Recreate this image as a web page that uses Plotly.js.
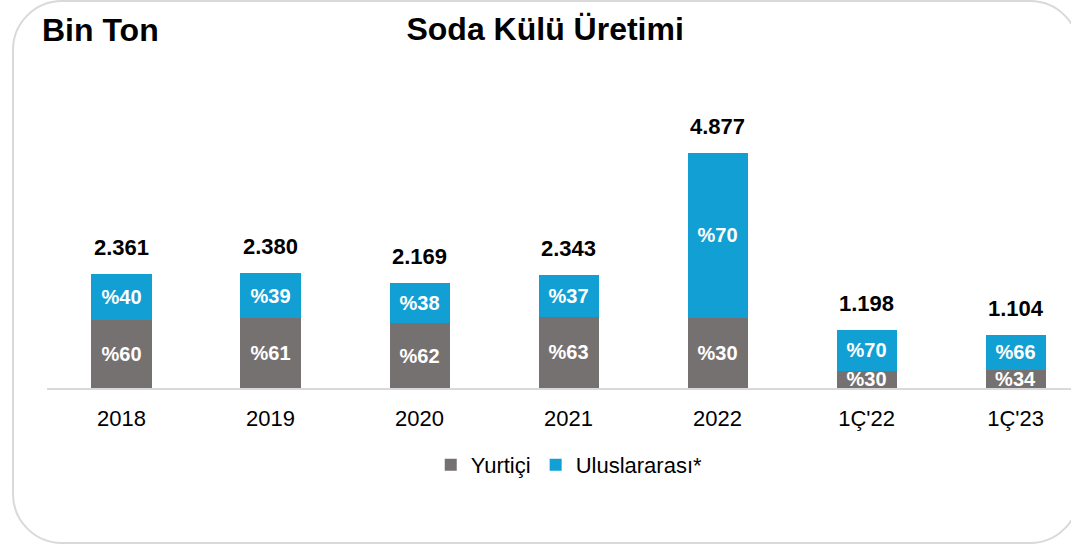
<!DOCTYPE html>
<html>
<head>
<meta charset="utf-8">
<script src="https://cdn.plot.ly/plotly-3.0.1.min.js"></script>
<style>
  html, body { margin: 0; padding: 0; background: #ffffff; }
  #wrap { position: relative; width: 1071px; height: 544px; overflow: hidden; }
  #frame { position: absolute; left: 12px; top: 0px; width: 1068px; height: 544px; box-sizing: border-box;
           border: 2px solid #d9d9d9; border-radius: 50px; }
  #chart { position: absolute; left: 0; top: 0; width: 1071px; height: 544px; }
</style>
</head>
<body>
<div id="wrap">
  <div id="frame"></div>
  <div id="chart"></div>
</div>
<script>
// Data (Bin Ton)
var categories = ["2018", "2019", "2020", "2021", "2022", "1Ç'22", "1Ç'23"];
var totals = [2361, 2380, 2169, 2343, 4877, 1198, 1104];
var totalLabels = ["2.361", "2.380", "2.169", "2.343", "4.877", "1.198", "1.104"];
var domestic = [1417, 1452, 1345, 1476, 1463, 359, 375];
var international = [944, 928, 824, 867, 3414, 839, 729];
var domesticPct = [60, 61, 62, 63, 30, 30, 34];
var internationalPct = [40, 39, 38, 37, 70, 70, 66];

var FONT = '"Liberation Sans", Arial, sans-serif';
var GRAY = '#767171';
var BLUE = '#129FD4';

var traces = [
  {
    type: 'bar', name: 'Yurtiçi', x: categories, y: domestic,
    marker: { color: GRAY },
    text: domesticPct.map(function (p) { return '%' + p; }),
    textposition: 'inside', insidetextanchor: 'middle', constraintext: 'none', textangle: 0,
    textfont: { family: FONT, size: 20, color: '#ffffff', weight: 700 },
    hoverinfo: 'skip'
  },
  {
    type: 'bar', name: 'Uluslararası*', x: categories, y: international,
    marker: { color: BLUE },
    text: internationalPct.map(function (p) { return '%' + p; }),
    textposition: 'inside', insidetextanchor: 'middle', constraintext: 'none', textangle: 0,
    textfont: { family: FONT, size: 20, color: '#ffffff', weight: 700 },
    hoverinfo: 'skip'
  }
];

// total labels above each bar (x given as category index so "2018" isn't read as a number)
var annotations = categories.map(function (c, i) {
  return {
    x: i, y: totals[i], xref: 'x', yref: 'y', text: totalLabels[i],
    showarrow: false, yanchor: 'bottom', yshift: 12,
    font: { family: FONT, size: 22, color: '#000000', weight: 700 }
  };
});
annotations.push({
  xref: 'paper', yref: 'paper', x: -0.007, y: 1.243, xanchor: 'left', yanchor: 'middle',
  text: 'Bin Ton', showarrow: false,
  font: { family: FONT, size: 32, color: '#000000', weight: 700 }
});

var layout = {
  width: 1071, height: 544,
  paper_bgcolor: 'rgba(0,0,0,0)', plot_bgcolor: 'rgba(0,0,0,0)',
  margin: { l: 47, r: 0, t: 100, b: 156, pad: 0 },
  barmode: 'stack', bargap: 0.597,
  title: {
    text: 'Soda Külü Üretimi', x: 0.509, xref: 'container', xanchor: 'center',
    y: 0.947, yref: 'container', yanchor: 'middle',
    font: { family: FONT, size: 32, color: '#000000', weight: 700 }
  },
  xaxis: {
    type: 'category', range: [-0.5, 6.372], fixedrange: true,
    showline: true, linecolor: '#d9d9d9', linewidth: 2,
    showgrid: false, zeroline: false, ticks: '',
    ticklabelstandoff: 10,
    tickfont: { family: FONT, size: 22, color: '#000000' }
  },
  yaxis: { range: [0, 5977], visible: false, showgrid: false, zeroline: false, fixedrange: true },
  showlegend: true,
  legend: {
    orientation: 'h', x: 0.51, xanchor: 'center', xref: 'paper',
    y: 1 - 465 / 544, yref: 'container', yanchor: 'middle',
    font: { family: FONT, size: 22, color: '#000000' },
    traceorder: 'normal', bgcolor: 'rgba(0,0,0,0)'
  },
  annotations: annotations,
  hovermode: false
};

Plotly.newPlot('chart', traces, layout, { displayModeBar: false, staticPlot: true });
</script>
</body>
</html>
